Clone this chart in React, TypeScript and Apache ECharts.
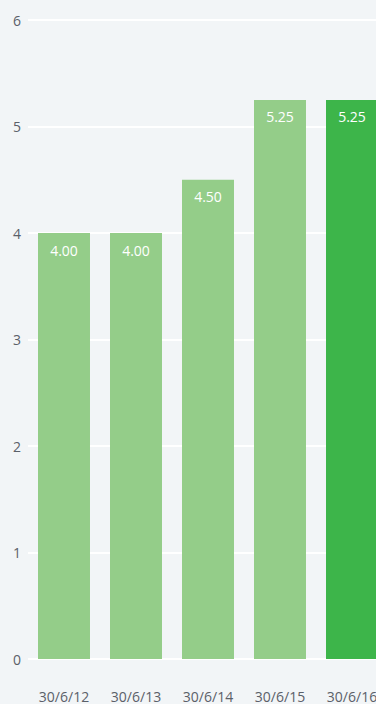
import React, { useEffect, useRef } from "react";
import * as echarts from "echarts";

const categories = ["30/6/12", "30/6/13", "30/6/14", "30/6/15", "30/6/16"];
const values = [4.0, 4.0, 4.5, 5.25, 5.25];
const highlightIndex = 4;

export default function App() {
  const ref = useRef<HTMLDivElement>(null);
  useEffect(() => {
    if (!ref.current) return;
    const chart = echarts.init(ref.current, null, { renderer: "svg" });
    chart.setOption({
      animation: false,
      backgroundColor: "#f2f5f7",
      textStyle: { fontFamily: "Open Sans" },
      grid: { left: 28, right: 0, top: 20, bottom: 45, containLabel: false },
      xAxis: {
        type: "category",
        data: categories,
        axisLine: { show: false },
        axisTick: { show: false },
        axisLabel: { color: "#5b6069", fontSize: 14, margin: 30, fontFamily: "Open Sans" },
      },
      yAxis: {
        type: "value",
        min: 0,
        max: 6,
        interval: 1,
        axisLine: { show: false },
        axisTick: { show: false },
        splitLine: { lineStyle: { color: "#ffffff", width: 2 } },
        axisLabel: { color: "#5b6069", fontSize: 14, margin: 7, fontFamily: "Open Sans" },
      },
      series: [
        {
          type: "bar",
          barCategoryGap: "27.8%",
          data: values.map((v, i) => ({
            value: v,
            itemStyle: { color: i === highlightIndex ? "#3db54a" : "#94cd89" },
          })),
          label: {
            show: true,
            position: "insideTop",
            distance: 10,
            color: "#ffffff",
            fontSize: 14,
            fontFamily: "Open Sans",
            formatter: (p: any) => Number(p.value).toFixed(2),
          },
        },
      ],
    });
    return () => chart.dispose();
  }, []);
  return (
    <div
      style={{
        position: "fixed",
        left: 0,
        top: 0,
        width: 376,
        height: 704,
        overflow: "hidden",
        background: "#f2f5f7",
      }}
    >
      <div ref={ref} style={{ width: 388, height: 704 }} />
    </div>
  );
}
